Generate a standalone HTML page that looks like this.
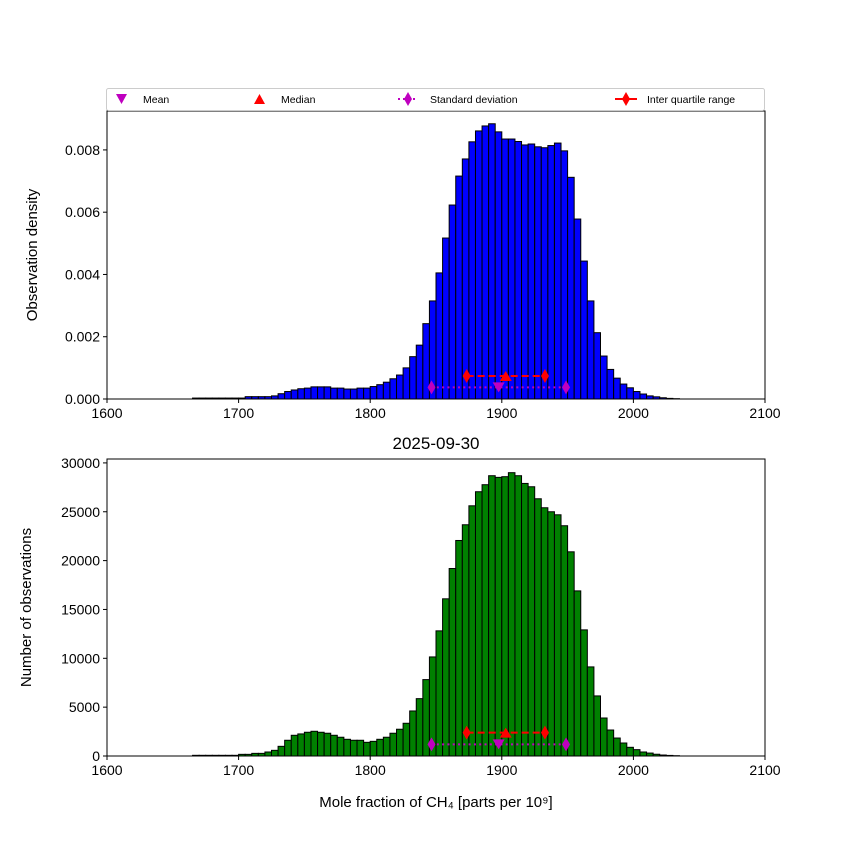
<!DOCTYPE html>
<html><head><meta charset="utf-8"><style>
body{margin:0;background:#fff}
svg{display:block;font-family:"Liberation Sans","DejaVu Sans",sans-serif}
</style></head><body>
<svg id="c" width="850" height="850" viewBox="0 0 850 850"></svg>
<script>
const binStart = 1665, binWidth = 5;
const densityTop = [0.00003,0.00003,0.00003,0.00003,0.00003,0.00003,0.00003,0.00003,0.000075,0.000075,0.000075,0.000075,0.0001,0.00017,0.00024,0.00029,0.00033,0.00035,0.00039,0.00039,0.00039,0.00035,0.00035,0.00032,0.00032,0.00035,0.00035,0.0004,0.00046,0.00054,0.00065,0.00077,0.001,0.00136,0.00173,0.00242,0.00315,0.00405,0.00517,0.00623,0.00716,0.00771,0.00826,0.00861,0.00877,0.00884,0.00858,0.00835,0.00835,0.00827,0.00816,0.00819,0.0081,0.00807,0.00814,0.00822,0.00797,0.00712,0.00578,0.00443,0.00315,0.00213,0.00138,0.00095,0.00067,0.00048,0.00036,0.00024,0.00016,0.0001,0.00007,0.00004,0.00002,0.00001];
const countsBottom = [70,70,70,70,70,70,70,170,170,270,270,410,580,990,1610,2120,2260,2430,2530,2430,2330,2120,1920,1710,1610,1610,1400,1500,1710,1920,2330,2740,3350,4610,5870,7820,10140,12810,16090,19190,22060,23670,25610,27050,27770,28690,28520,28590,29000,28690,27900,27560,26330,25410,25000,24690,23570,20900,16900,12910,9120,6150,3890,2660,1840,1330,890,650,410,300,180,100,60,30];
const xTicks = [1600,1700,1800,1900,2000,2100];
const yTicksTop = [0,0.002,0.004,0.006,0.008];
const yTickLabelsTop = ["0.000","0.002","0.004","0.006","0.008"];
const yTicksBottom = [0,5000,10000,15000,20000,25000,30000];
const statsTop = {mean:1897.6, median:1903, sdLo:1846.6, sdHi:1948.8, iqrLo:1873.3, iqrHi:1932.8, sdY:0.000373, iqrY:0.00074};
const statsBottom = {mean:1897.6, median:1903, sdLo:1846.6, sdHi:1948.8, iqrLo:1873.3, iqrHi:1932.8, sdY:1190, iqrY:2390};

const NS="http://www.w3.org/2000/svg", svg=document.getElementById('c');
function el(tag, attrs, parent, text){const e=document.createElementNS(NS,tag);for(const k in attrs)e.setAttribute(k,attrs[k]);if(text!==undefined)e.textContent=text;(parent||svg).appendChild(e);return e;}
const X0=107,X1=765;
const xs=v=>X0+(v-1600)/500*(X1-X0);

function panel(top,bottom,ymax,vals,color,yt,ytl,ylabel,stats,name){
  const ys=v=>bottom-v/ymax*(bottom-top);
  const g=el('g',{});  
  vals.forEach((v,i)=>{const a=binStart+i*binWidth;const r=el('rect',{x:xs(a),y:ys(v),width:xs(a+binWidth)-xs(a),height:bottom-ys(v),fill:color,stroke:'#000','stroke-width':1},g);
    });
  // stats
  const sd=el('g',{},g);
  el('line',{x1:xs(stats.sdLo),x2:xs(stats.sdHi),y1:ys(stats.sdY),y2:ys(stats.sdY),stroke:'#bf00bf','stroke-width':2,'stroke-dasharray':'2,3.3'},sd);
  [stats.sdLo,stats.sdHi].forEach(v=>{const x=xs(v),y=ys(stats.sdY);el('polygon',{points:`${x},${y-7} ${x+4},${y} ${x},${y+7} ${x-4},${y}`,fill:'#bf00bf'},sd);});
  const mx=xs(stats.mean),my=ys(stats.sdY);el('polygon',{points:`${mx-6},${my-5} ${mx+6},${my-5} ${mx},${my+5}`,fill:'#bf00bf'},sd);
  const iq=el('g',{},g);
  el('line',{x1:xs(stats.iqrLo),x2:xs(stats.iqrHi),y1:ys(stats.iqrY),y2:ys(stats.iqrY),stroke:'#f00','stroke-width':2,'stroke-dasharray':'7,4'},iq);
  [stats.iqrLo,stats.iqrHi].forEach(v=>{const x=xs(v),y=ys(stats.iqrY);el('polygon',{points:`${x},${y-7} ${x+4},${y} ${x},${y+7} ${x-4},${y}`,fill:'#f00'},iq);});
  const ex=xs(stats.median),ey=ys(stats.iqrY);el('polygon',{points:`${ex-6},${ey+5} ${ex+6},${ey+5} ${ex},${ey-5}`,fill:'#f00'},iq);
  el('rect',{x:X0,y:top,width:X1-X0,height:bottom-top,fill:'none',stroke:'#000','stroke-width':1},g);
  xTicks.forEach(t=>{el('line',{x1:xs(t),x2:xs(t),y1:bottom,y2:bottom+4,stroke:'#000'},g);
    const tx=el('text',{x:xs(t),y:bottom+19,'text-anchor':'middle','font-size':14},g,String(t));});
  yt.forEach((t,i)=>{el('line',{x1:X0-4,x2:X0,y1:ys(t),y2:ys(t),stroke:'#000'},g);
    const tx=el('text',{x:X0-7,y:ys(t)+5,'text-anchor':'end','font-size':14},g,ytl[i]);});
  const yl=el('text',{x:0,y:0,transform:`translate(${name==='top-panel'?37:31},${(top+bottom)/2}) rotate(-90)`,'text-anchor':'middle','font-size':15},g,ylabel);
  
}
panel(111,399,0.00925,densityTop,'#0000ff',yTicksTop,yTickLabelsTop,'Observation density',statsTop,'top-panel');
panel(459,756,30400,countsBottom,'#008000',yTicksBottom,yTicksBottom.map(String),'Number of observations',statsBottom,'bottom-panel');

const title=el('text',{x:436,y:449,'text-anchor':'middle','font-size':17},svg,'2025-09-30');

const xl=el('text',{x:436,y:807,'text-anchor':'middle','font-size':15},svg,'Mole fraction of CH₄ [parts per 10⁹]');


// legend
const lg=el('g',{});
el('rect',{x:106.5,y:88.5,width:658,height:22,rx:2,fill:'#fff',stroke:'#ccc'},lg);
function entry(x,label,draw,nm){const e=el('g',{},lg);draw(e);el('text',{x:x,y:103,'font-size':10.5},e,label);}
entry(143,'Mean',e=>el('polygon',{points:'116,94 127,94 121.5,104',fill:'#bf00bf'},e),'legend-entry-mean');
entry(281,'Median',e=>el('polygon',{points:'254,104 265,104 259.5,94',fill:'#f00'},e),'legend-entry-median');
entry(430,'Standard deviation',e=>{el('line',{x1:398,x2:418,y1:99,y2:99,stroke:'#bf00bf','stroke-width':2,'stroke-dasharray':'2,3'},e);el('polygon',{points:'408,92 412,99 408,106 404,99',fill:'#bf00bf'},e);},'legend-entry-standard-deviation');
entry(647,'Inter quartile range',e=>{el('line',{x1:615,x2:637,y1:99,y2:99,stroke:'#f00','stroke-width':2},e);el('polygon',{points:'626,92 630,99 626,106 622,99',fill:'#f00'},e);},'legend-entry-interquartile-range');
</script>
</body></html>
